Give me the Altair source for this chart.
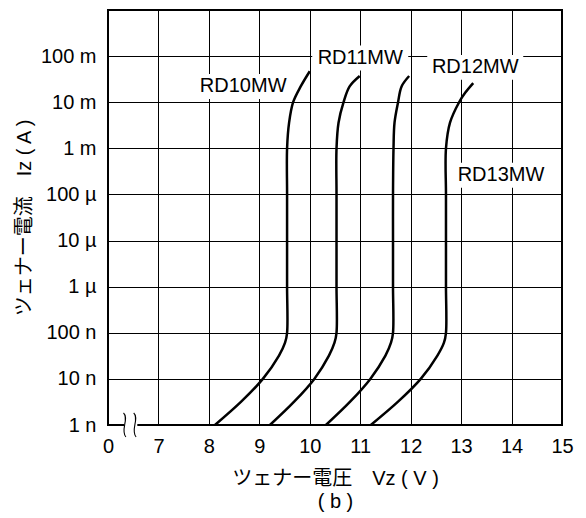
import json
import altair as alt
import pandas as pd

# ---------------- data ----------------
# The x axis is broken: the position 6 on the data scale is shown as "0".
x_ticks = [6, 7, 8, 9, 10, 11, 12, 13, 14, 15]
x_tick_labels = ["0", "7", "8", "9", "10", "11", "12", "13", "14", "15"]
y_ticks = [1e-9, 1e-8, 1e-7, 1e-6, 1e-5, 1e-4, 1e-3, 1e-2, 1e-1, 1]
y_tick_labels = ["1 n", "10 n", "100 n", "1 µ", "10 µ", "100 µ", "1 m", "10 m", "100 m", ""]

series_names = ["RD10MW", "RD11MW", "RD12MW", "RD13MW"]

rd10_v = [8.12, 8.64, 9.07, 9.39, 9.51, 9.55, 9.55, 9.55, 9.55, 9.55, 9.59, 9.67, 9.82, 10.00]
rd10_i = [1e-9, 3.2e-9, 1e-8, 3.2e-8, 6.1e-8, 1e-7, 1e-6, 1e-5, 1e-4, 1e-3, 3.6e-3, 1e-2, 2.2e-2, 4.7e-2]

rd11_v = [9.21, 9.69, 10.09, 10.38, 10.49, 10.53, 10.53, 10.53, 10.53, 10.53, 10.57, 10.67, 10.79, 10.99]
rd11_i = [1e-9, 3.2e-9, 1e-8, 3.2e-8, 6.1e-8, 1e-7, 1e-6, 1e-5, 1e-4, 1e-3, 3.6e-3, 1e-2, 2.2e-2, 3.7e-2]

rd12_v = [10.32, 10.80, 11.20, 11.50, 11.61, 11.65, 11.65, 11.65, 11.65, 11.66, 11.68, 11.75, 11.82, 11.97]
rd12_i = [1e-9, 3.2e-9, 1e-8, 3.2e-8, 6.1e-8, 1e-7, 1e-6, 1e-5, 1e-4, 1e-3, 3.6e-3, 1e-2, 2.2e-2, 3.7e-2]

rd13_v = [11.21, 11.75, 12.20, 12.53, 12.66, 12.70, 12.70, 12.70, 12.70, 12.70, 12.78, 12.96, 13.08, 13.24]
rd13_i = [1e-9, 3.2e-9, 1e-8, 3.2e-8, 6.1e-8, 1e-7, 1e-6, 1e-5, 1e-4, 1e-3, 3.6e-3, 1e-2, 1.6e-2, 2.6e-2]

label_v = [8.68, 11.0, 13.28, 13.79]
label_i = [2.2e-2, 9.1e-2, 5.7e-2, 2.6e-4]

break_v = [6.45]
break_i = [1e-9]

x_title = ["ツェナー電圧　Vz ( V )", "( b )"]
y_title = "ツェナー電流　Iz ( A )"

# ---------------- tables ----------------
rows = []
for name, vs, cs in zip(series_names, [rd10_v, rd11_v, rd12_v, rd13_v],
                        [rd10_i, rd11_i, rd12_i, rd13_i]):
    for k, (v, c) in enumerate(zip(vs, cs)):
        rows.append({"name": name, "idx": k, "v": v, "i": c})
curves = pd.DataFrame(rows)
labels = pd.DataFrame({"name": series_names, "v": label_v, "i": label_i})
brk = pd.DataFrame({"v": break_v, "i": break_i})

LATIN = "Liberation Sans, Arial, Noto Sans CJK JP"
CJK = "Liberation Sans, Noto Sans CJK JP"

x_expr = json.dumps(x_tick_labels) + "[datum.value - 6]"
y_expr = json.dumps(y_tick_labels, ensure_ascii=False) + "[round(log(datum.value) / LN10) + 9]"

X = alt.X(
    "v:Q",
    scale=alt.Scale(domain=[6, 15], nice=False, zero=False),
    axis=alt.Axis(
        values=x_ticks, labelExpr=x_expr, title=x_title, grid=True,
        labelPadding=11, labelFlush=False, labelOverlap=False,
        titleX=227, titleY=43, titleBaseline="top", titleAlign="center",
        titleLineHeight=23, titleFont=CJK, titleFontSize=20,
    ),
)
Y = alt.Y(
    "i:Q",
    scale=alt.Scale(type="log", domain=[1e-9, 1], nice=False),
    axis=alt.Axis(
        values=y_ticks, labelExpr=y_expr, title=y_title, grid=True,
        labelPadding=12, labelFlush=False, labelOverlap=False,
        titleX=-84, titleY=207.5, titleAngle=-90, titleBaseline="middle",
        titleAlign="center", titleFont=CJK, titleFontSize=20,
    ),
)

box_path = "M-1,-0.26H1V0.26H-1Z"
boxes = alt.Chart(labels).mark_point(
    shape=box_path, size=9216, filled=True, fill="white", opacity=1, strokeWidth=0
).encode(x=X, y=Y)

lines = alt.Chart(curves).mark_line(
    interpolate="catmull-rom", color="black", strokeWidth=2.5
).encode(x=X, y=Y, detail="name:N", order="idx:Q")

texts = alt.Chart(labels).mark_text(
    font=LATIN, fontSize=20, color="black", align="center", baseline="middle"
).encode(x=X, y=Y, text="name:N")

gap = alt.Chart(brk).mark_point(
    shape="M-0.55,-0.18H0.55V0.18H-0.55Z", size=576, filled=True, fill="white",
    opacity=1, strokeWidth=0
).encode(x=X, y=Y)

wave = alt.Chart(brk).mark_point(
    shape="M-0.6,-1C-0.1,-0.55 -0.9,0.45 -0.4,1M0.25,-1C0.75,-0.55 -0.05,0.45 0.45,1",
    size=576, filled=False, color="black", opacity=1, strokeWidth=1.1
).encode(x=X, y=Y)

chart = alt.layer(boxes, lines, texts, gap, wave).properties(
    width=454, height=415,
    autosize=alt.AutoSizeParams(type="none"),
    padding={"left": 100, "top": 2, "right": 16, "bottom": 90},
).configure_view(
    stroke="black", strokeWidth=2
).configure_axis(
    domain=False, ticks=False, tickSize=0,
    gridColor="black", gridOpacity=1, gridWidth=1,
    labelFont=LATIN, labelFontSize=20, labelColor="black",
    titleColor="black", titleFontWeight="normal",
)

chart.save("out.html", embed_options={"renderer": "svg", "actions": False})
